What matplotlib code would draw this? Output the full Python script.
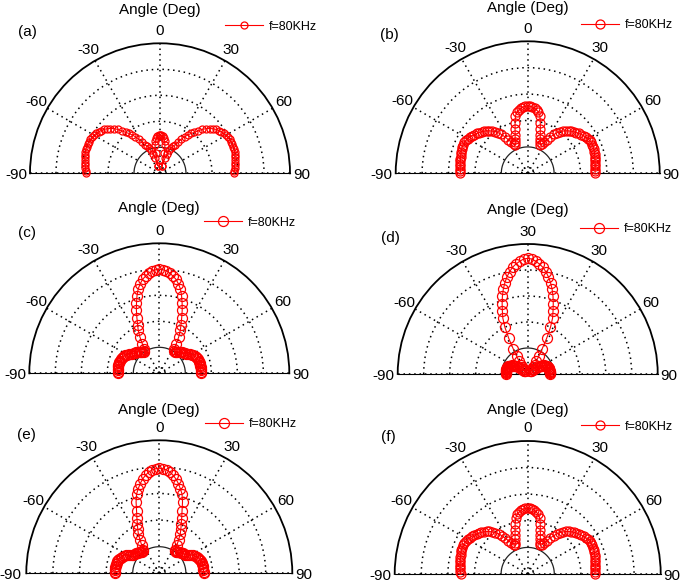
import numpy as np
import matplotlib
matplotlib.use("Agg")
import matplotlib.pyplot as plt

plt.rcParams['font.family'] = ['Liberation Sans', 'DejaVu Sans']

W, H = 685, 582

# beam patterns are symmetric about 0 deg: values for 0..90 deg, step 2 deg
angles_half = np.arange(0, 92, 2)

r_a = [0.295, 0.292, 0.285, 0.27, 0.25, 0.22, 0.16, 0.06, 0.06, 0.12,
       0.16, 0.19, 0.215, 0.235, 0.25, 0.275, 0.31, 0.34, 0.365, 0.39,
       0.41, 0.44, 0.47, 0.495, 0.515, 0.533, 0.548, 0.56, 0.57, 0.578,
       0.585, 0.59, 0.595, 0.598, 0.6, 0.6, 0.6, 0.598, 0.594, 0.59,
       0.586, 0.582, 0.578, 0.575, 0.572, 0.57]
r_b = [0.51, 0.508, 0.504, 0.496, 0.485, 0.47, 0.445, 0.395, 0.347, 0.308,
       0.278, 0.254, 0.235, 0.245, 0.268, 0.295, 0.325, 0.355, 0.38, 0.40,
       0.418, 0.433, 0.447, 0.459, 0.47, 0.48, 0.49, 0.50, 0.51, 0.519,
       0.526, 0.531, 0.534, 0.535, 0.535, 0.533, 0.53, 0.527, 0.524, 0.521,
       0.518, 0.516, 0.514, 0.512, 0.511, 0.51]
r_c = [0.80, 0.797, 0.789, 0.775, 0.755, 0.735, 0.705, 0.67, 0.622, 0.568,
       0.515, 0.46, 0.41, 0.37, 0.32, 0.26, 0.22, 0.205, 0.205, 0.21,
       0.215, 0.222, 0.23, 0.236, 0.24, 0.245, 0.25, 0.258, 0.267, 0.277,
       0.287, 0.296, 0.303, 0.309, 0.313, 0.316, 0.318, 0.32, 0.321, 0.321,
       0.321, 0.321, 0.32, 0.32, 0.32, 0.32]
r_d = [0.89, 0.885, 0.87, 0.852, 0.83, 0.80, 0.765, 0.725, 0.68, 0.63,
       0.575, 0.52, 0.47, 0.40, 0.31, 0.22, 0.16, 0.12, 0.09, 0.07,
       0.05, 0.035, 0.03, 0.035, 0.05, 0.065, 0.08, 0.095, 0.11, 0.12,
       0.13, 0.14, 0.148, 0.155, 0.16, 0.163, 0.165, 0.167, 0.168, 0.169,
       0.17, 0.17, 0.17, 0.17, 0.17, 0.17]
r_e = [0.79, 0.787, 0.779, 0.765, 0.745, 0.72, 0.69, 0.655, 0.62, 0.565,
       0.50, 0.45, 0.405, 0.37, 0.335, 0.29, 0.25, 0.215, 0.205, 0.207,
       0.21, 0.215, 0.22, 0.225, 0.23, 0.233, 0.236, 0.24, 0.248, 0.26,
       0.274, 0.287, 0.298, 0.307, 0.314, 0.32, 0.324, 0.327, 0.329, 0.331,
       0.332, 0.333, 0.333, 0.333, 0.333, 0.333]
r_f = [0.495, 0.493, 0.489, 0.481, 0.47, 0.455, 0.432, 0.39, 0.345, 0.307,
       0.278, 0.254, 0.236, 0.243, 0.265, 0.29, 0.318, 0.347, 0.373, 0.395,
       0.413, 0.43, 0.445, 0.457, 0.468, 0.478, 0.488, 0.498, 0.507, 0.515,
       0.522, 0.527, 0.53, 0.531, 0.531, 0.53, 0.527, 0.524, 0.521, 0.518,
       0.515, 0.513, 0.511, 0.509, 0.507, 0.505]

tick_angles = [-90, -60, -30, 0, 30, 60, 90]
tick_labels = ['-90', '-60', '-30', '0', '30', '60', '90']
tick_labels_d = ['-90', '-60', '-30', '30', '30', '60', '90']
series_label = 'f=80KHz'

# layout in pixels: name, data, tick labels, centre x, baseline y, radius,
# marker px, title baseline y, panel label pos, legend pos, gap of +-90 labels
panels = [
    ('(a)', r_a, tick_labels, 160.0, 173.3, 130, 7.0, 14, (18, 32), (225, 26.5), 3),
    ('(b)', r_b, tick_labels, 527.7, 173.3, 132, 9.0, 12, (380, 35), (581, 25), 3),
    ('(c)', r_c, tick_labels, 159.3, 373.3, 130, 10.0, 212, (18, 233), (204, 222.7), 3),
    ('(d)', r_d, tick_labels_d, 527.7, 374.0, 130, 10.0, 214, (381, 237.7), (580, 229), 3),
    ('(e)', r_e, tick_labels, 159.3, 573.3, 133, 10.0, 414, (17, 435), (205, 424.3), 5),
    ('(f)', r_f, tick_labels, 527.7, 574.0, 133, 9.0, 414, (381, 436.7), (581, 426.7), 3),
]

fig = plt.figure(figsize=(W / 100, H / 100), dpi=100)
fig.patch.set_facecolor('white')

dots = (0, (1, 2.5))
ring = np.linspace(-np.pi / 2, np.pi / 2, 200)

for name, rvals, tlabels, cx, cy, R, mpx, ty, (lx, ly), (gx, gy), gap in panels:
    # square box of side 2R; the half disc sits in its middle
    ax = fig.add_axes([(cx - R) / W, (H - cy - R / 2) / H, 2 * R / W, 2 * R / H],
                      projection='polar')
    ax.set_theta_zero_location('N')
    ax.set_theta_direction(-1)
    ax.set_thetamin(-90)
    ax.set_thetamax(90)
    ax.set_ylim(0, 1)
    ax.set_thetagrids(tick_angles, labels=[''] * len(tick_angles))
    ax.set_rgrids([0.045, 0.4, 0.6, 0.8], labels=[''] * 4)
    ax.grid(True, color='black', linestyle=dots, linewidth=1.1)
    ax.tick_params(length=0)
    ax.spines['polar'].set_linewidth(1.3)
    for s in ['start', 'end', 'inner']:
        ax.spines[s].set_visible(False)

    # solid inner reference ring
    ax.plot(ring, np.full(ring.size, 0.2), color='#222222', lw=0.9, zorder=3)

    rv = np.array(rvals)
    th = np.deg2rad(np.concatenate([-angles_half[::-1], angles_half[1:]]))
    rr = np.concatenate([rv[::-1], rv[1:]])
    ax.plot(th, rr, color='red', lw=0.8, marker='o', mfc='none', mec='red',
            mew=0.9, ms=mpx * 0.72, label=series_label, clip_on=False, zorder=5)

    for t, lab in zip(tick_angles, tlabels):
        if t == -90:
            ax.text(np.deg2rad(t), 1 + gap / R, lab, ha='right', va='center_baseline',
                    fontsize=11, clip_on=False)
        elif t == 90:
            ax.text(np.deg2rad(t), 1 + 3 / R, lab, ha='left', va='center_baseline',
                    fontsize=11, clip_on=False)
        else:
            ax.text(np.deg2rad(t), 1 + 12.5 / R, lab, ha='center', va='center',
                    fontsize=11, clip_on=False)

    fig.text(cx / W, 1 - ty / H, 'Angle (Deg)', ha='center', va='baseline', fontsize=11)
    fig.text(lx / W, 1 - ly / H, name, ha='left', va='center', fontsize=11)
    ax.legend(loc='center left', bbox_to_anchor=(gx / W, 1 - gy / H),
              bbox_transform=fig.transFigure, frameon=False, borderpad=0,
              borderaxespad=0, handlelength=3.0, handletextpad=0.5, fontsize=9)

fig.savefig('out.png', dpi=100)
